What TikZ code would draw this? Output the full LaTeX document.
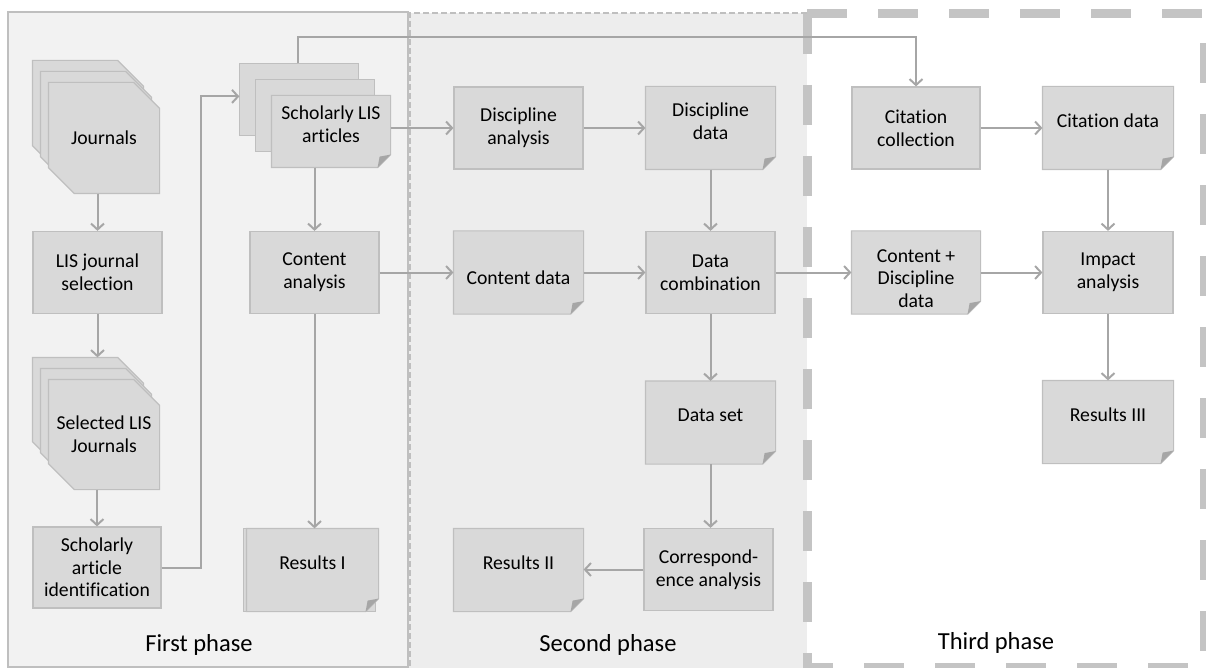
\documentclass[tikz,border=0pt]{standalone}
\usepackage{fontspec}
\setmainfont{Carlito}[Ligatures=CommonOff]
\usetikzlibrary{arrows.meta,calc}
\definecolor{boxfill}{HTML}{D9D9D9}
\definecolor{boxline}{HTML}{BFBFBF}
\definecolor{flowgray}{HTML}{A6A6A6}
\definecolor{phaseone}{HTML}{F2F2F2}
\definecolor{phasetwo}{HTML}{EDEDED}
\definecolor{dashgray}{HTML}{C4C4C4}
\pgfdeclarelayer{back}
\pgfdeclarelayer{mid}
\pgfsetlayers{back,mid,main}

\begin{document}
\begin{tikzpicture}[x=1pt, y=-1pt,
    proc/.style={draw=boxline, fill=boxfill, line width=1.2pt, minimum width=129pt,
        minimum height=82pt, align=center, inner sep=2pt,
        font=\fontsize{19.7}{22.7}\selectfont},
    doc/.style={proc, draw=none, fill=none, text depth=14pt},
    stack/.style={proc, draw=none, fill=none, minimum width=110pt, minimum height=110pt},
    sheet/.style={fill=boxfill, draw=boxline, line width=1.2pt},
    flow/.style={draw=flowgray, line width=2pt, -{Straight Barb[length=6pt,width=13pt]}},
    phase/.style={font=\fontsize{24.5}{28}\selectfont}]

    \useasboundingbox (0,0) rectangle (1206,668);

    % Phase panels
    \begin{pgfonlayer}{back}
        \fill[phasetwo] (409,13) rectangle (807,668);
        \draw[boxline, line width=1.2pt, dash pattern=on 6pt off 3pt] (807,13) -- (410,13) -- (410,668);
        \draw[fill=phaseone, draw=boxline, line width=1.2pt] (8,12) rectangle (408,667);
        \draw[dashgray, line width=9pt, dash pattern=on 40pt off 31pt] (807,14) -- (1204,14) -- (1204,667);
        \draw[dashgray, line width=9pt, dash pattern=on 40pt off 31pt] (807,14) -- (807,667) -- (1204,667);
    \end{pgfonlayer}

    % First phase
    \node[stack] (jour) at (104,138) {Journals};
    \node[proc] (jsel) at (97.5,272.5) {LIS journal\\selection};
    \node[stack, minimum height=109pt] (selj) at (104,434.5) {Selected LIS\\Journals};
    \node[proc, minimum width=128pt, minimum height=81pt] (sident) at (97,567.5) {Scholarly\\article\\identification};
    \node[doc, minimum width=118pt, minimum height=71pt] (art) at (331,131.5) {Scholarly LIS\\articles};
    \node[proc] (cana) at (314.5,272.5) {Content\\analysis};
    \node[doc, minimum width=131pt] (res1) at (312.5,570) {Results I};

    % Second phase
    \node[proc] (dana) at (518.5,128) {Discipline\\analysis};
    \node[doc] (ddata) at (710.5,128) {Discipline\\data};
    \node[doc, text depth=0pt, text height=24pt] (cdata) at (518.5,272.5) {Content data};
    \node[proc] (dcomb) at (710.5,272.5) {Data\\combination};
    \node[doc] (dset) at (710.5,422.5) {Data set};
    \node[proc] (corr) at (708.5,569.5) {Correspond-\\ence analysis};
    \node[doc] (res2) at (518.5,570) {Results II};

    % Third phase
    \node[proc, minimum width=128pt] (ccol) at (916,128) {Citation\\collection};
    \node[doc, minimum width=130pt] (citd) at (1108,128) {Citation data};
    \node[doc, minimum width=128pt, text depth=0pt, text height=70pt] (cdd) at (916,272.5) {Content +\\Discipline\\data};
    \node[proc, minimum width=130pt] (imp) at (1108,272.5) {Impact\\analysis};
    \node[doc, minimum width=130pt] (res3) at (1108,422) {Results III};

    % Phase labels
    \node[phase] (lab1) at (199,645) {First phase};
    \node[phase] (lab2) at (608,645) {Second phase};
    \node[phase] (lab3) at (996,643) {Third phase};

    \begin{pgfonlayer}{mid}
        % Stacked journals, two corners cut
        \foreach \n in {jour,selj}
            \foreach \d/\e in {-16/-22,-8/-11,0/0}
                \draw[sheet] ($(\n.north west)+(\d,\e)$) -- ($(\n.north east)+(\d-26,\e)$)
                    -- ($(\n.north east)+(\d,\e+26)$) -- ($(\n.south east)+(\d,\e)$)
                    -- ($(\n.south west)+(\d+26,\e)$) -- ($(\n.south west)+(\d,\e-26)$) -- cycle;
        % Back sheets of the articles and of the first results
        \foreach \d in {32,16}
            \draw[sheet] ($(art.north west)+(-\d,-\d)$) rectangle ($(art.south east)+(-\d,-\d)$);
        \draw[sheet] ($(res1.north west)+(-3,0)$) rectangle ($(res1.south east)+(-3,0)$);
        % Documents with folded corner
        \foreach \n in {art,res1,ddata,cdata,dset,res2,citd,cdd,res3} {
            \draw[sheet] (\n.north west) -- (\n.north east)
                -- ($(\n.south east)+(0,-13)$) -- ($(\n.south east)+(-13,0)$) -- (\n.south west) -- cycle;
            \fill[flowgray] ($(\n.south east)+(0,-13)$) -- ($(\n.south east)+(-13,0)$) -- ($(\n.south east)+(-11,-11)$) -- cycle;
        }
    \end{pgfonlayer}

    % Connectors, first phase
    \draw[flow] (jour.south -| jsel.north) -- (jsel.north);
    \draw[flow] (jsel.south) -- ($(jsel.south |- selj.north)+(0,-22)$);
    \draw[flow] (selj.south -| sident.north) -- (sident.north);
    \draw[flow] (sident.east) -- ++(39,0) |- ($(art.north west)+(-32,1)$);
    \draw[flow] (art.south -| cana.north) -- (cana.north);
    \draw[flow] (cana.south) -- (cana.south |- res1.north);

    % Connectors, second phase
    \draw[flow] (art.east |- dana.west) -- (dana.west);
    \draw[flow] (cana.east) -- (cdata.west);
    \draw[flow] (dana.east) -- (ddata.west);
    \draw[flow] (ddata.south) -- (dcomb.north);
    \draw[flow] (cdata.east) -- (dcomb.west);
    \draw[flow] (dcomb.south) -- (dset.north);
    \draw[flow] (dset.south) -- (dset.south |- corr.north);
    \draw[flow] (corr.west) -- (corr.west -| res2.east);

    % Connectors, third phase
    \draw[flow] ($(art.north)+(-33,-32)$) -- ++(0,-26) -| (ccol.north);
    \draw[flow] (dcomb.east) -- (cdd.west);
    \draw[flow] (ccol.east) -- (citd.west);
    \draw[flow] (citd.south) -- (imp.north);
    \draw[flow] (cdd.east) -- (imp.west);
    \draw[flow] (imp.south) -- (res3.north);

\end{tikzpicture}
\end{document}
